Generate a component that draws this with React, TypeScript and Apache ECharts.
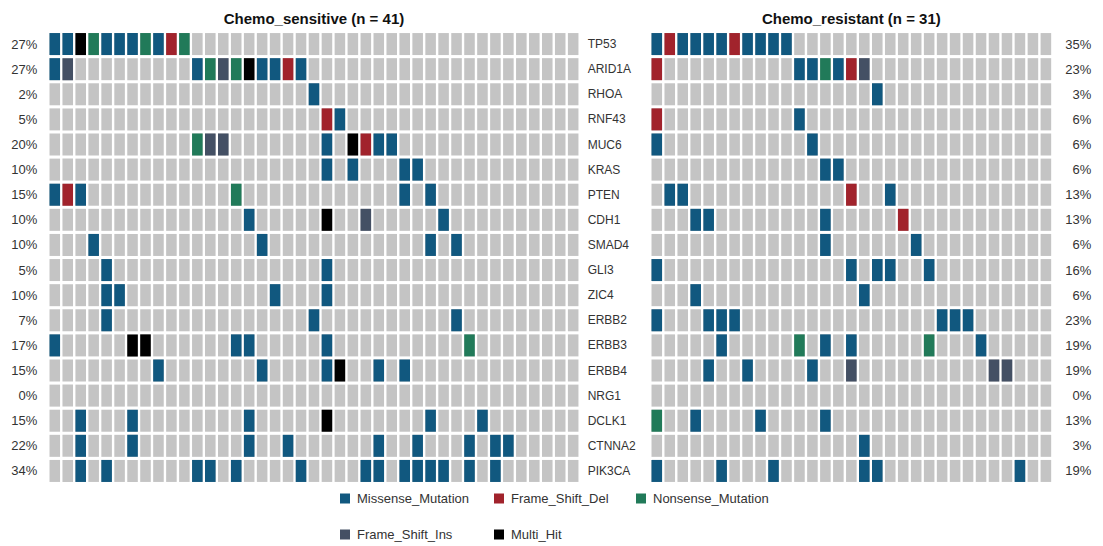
import React, { useEffect, useRef } from "react";
import * as echarts from "echarts";

// ---------- data ----------
const genes = [
  "TP53", "ARID1A", "RHOA", "RNF43", "MUC6", "KRAS", "PTEN", "CDH1", "SMAD4",
  "GLI3", "ZIC4", "ERBB2", "ERBB3", "ERBB4", "NRG1", "DCLK1", "CTNNA2", "PIK3CA",
];

const sensitivePct = [
  "27%", "27%", "2%", "5%", "20%", "10%", "15%", "10%", "10%",
  "5%", "10%", "7%", "17%", "15%", "0%", "15%", "22%", "34%",
];
const resistantPct = [
  "35%", "23%", "3%", "6%", "6%", "6%", "13%", "13%", "6%",
  "16%", "6%", "23%", "19%", "19%", "0%", "13%", "3%", "19%",
];

// M = Missense_Mutation, D = Frame_Shift_Del, N = Nonsense_Mutation,
// I = Frame_Shift_Ins, X = Multi_Hit, . = no mutation
// Chemo_sensitive: 41 samples
const sensitiveRows = [
  "MMXNMMMNMDN..............................", // TP53
  "MI.........MNINXMMDM.....................", // ARID1A
  "....................M....................", // RHOA
  ".....................DM..................", // RNF43
  "...........NII.......M.XDMM..............", // MUC6
  ".....................M.M...MM............", // KRAS
  "MDM...........N............M.M...........", // PTEN
  "...............M.....X..I.....M..........", // CDH1
  "...M............M............M.M.........", // SMAD4
  "....M................M...................", // GLI3
  "....MM...........M...M...................", // ZIC4
  "....M...............M..........M.........", // ERBB2
  "M.....XX......MM.....M..........N........", // ERBB3
  "........M.......M....MX..M.M.............", // ERBB4
  ".........................................", // NRG1
  "..M...M........M.....X.......M...M.......", // DCLK1
  "..M...M........M..M......M..M...M.MM.....", // CTNNA2
  "..M.M......MM.M....M....MM.MMMM.M.M......", // PIK3CA
];
// Chemo_resistant: 31 samples
const resistantRows = [
  "MDMMMMDMMMM....................", // TP53
  "D..........MMNMDI..............", // ARID1A
  ".................M.............", // RHOA
  "D..........M...................", // RNF43
  "M...........M..................", // MUC6
  ".............MM................", // KRAS
  ".MM............D..M............", // PTEN
  "...MM........M.....D...........", // CDH1
  ".............M......M..........", // SMAD4
  "M..............M.MM..M.........", // GLI3
  "...M............M..............", // ZIC4
  "M...MMM...............MMM......", // ERBB2
  ".....M.....N.M.M.....N...M.....", // ERBB3
  "....M..M....M..I..........II...", // ERBB4
  "...............................", // NRG1
  "N..M....M....M.................", // DCLK1
  "................M..............", // CTNNA2
  "M....M...M......MM..........M..", // PIK3CA
];

const mutationCodes = ["M", "D", "N", "I", "X"];
const mutationNames = [
  "Missense_Mutation", "Frame_Shift_Del", "Nonsense_Mutation",
  "Frame_Shift_Ins", "Multi_Hit",
];

// ---------- styles ----------
const mutationColors = ["#11587F", "#A1232C", "#217A59", "#445064", "#000000"];
const EMPTY_COLOR = "#C4C4C4";
const FONT = "'Liberation Sans', Arial, Helvetica, sans-serif";
const TEXT_COLOR = "#333333";
const GAP_X = 2.4;
const GAP_Y = 3.1;

function cellsOf(rows: string[], code: string | null) {
  const out: number[][] = [];
  rows.forEach((row, gi) => {
    for (let i = 0; i < row.length; i++) {
      if (code === null || row[i] === code) out.push([i, gi]);
    }
  });
  return out;
}

const makeRender = (fill: string) => (_params: any, api: any) => {
  const c = api.coord([api.value(0), api.value(1)]);
  const s = api.size([1, 1]);
  const w = s[0] - GAP_X;
  const h = s[1] - GAP_Y;
  return {
    type: "rect",
    shape: { x: c[0] - w / 2, y: c[1] - h / 2, width: w, height: h },
    style: { fill },
  };
};

export default function App() {
  const ref = useRef<HTMLDivElement>(null);

  useEffect(() => {
    if (!ref.current) return;
    const chart = echarts.init(ref.current, null, { renderer: "svg" });

    const nS = sensitiveRows[0].length;
    const nR = resistantRows[0].length;
    const sSamples = Array.from({ length: nS }, (_, i) => "S" + (i + 1));
    const rSamples = Array.from({ length: nR }, (_, i) => "R" + (i + 1));

    const hiddenX = {
      type: "category" as const,
      axisLine: { show: false },
      axisTick: { show: false },
      axisLabel: { show: false },
      splitLine: { show: false },
    };
    const catY = (data: string[], gridIndex: number, position: string, extra: any) => ({
      type: "category",
      data,
      gridIndex,
      position,
      inverse: true,
      axisLine: { show: false },
      axisTick: { show: false },
      splitLine: { show: false },
      axisLabel: {
        fontSize: 12,
        fontFamily: FONT,
        color: TEXT_COLOR,
        ...extra,
      },
    });

    const series: any[] = [];
    const addPanel = (rows: string[], idx: number, yIdx: number) => {
      series.push({
        type: "custom",
        name: "bg" + idx,
        xAxisIndex: idx,
        yAxisIndex: yIdx,
        renderItem: makeRender(EMPTY_COLOR),
        encode: { x: 0, y: 1 },
        data: cellsOf(rows, null),
        silent: true,
      });
      mutationCodes.forEach((code, k) => {
        series.push({
          type: "custom",
          name: mutationNames[k],
          xAxisIndex: idx,
          yAxisIndex: yIdx,
          itemStyle: { color: mutationColors[k] },
          renderItem: makeRender(mutationColors[k]),
          encode: { x: 0, y: 1 },
          data: cellsOf(rows, code),
        });
      });
    };
    addPanel(sensitiveRows, 0, 0);
    addPanel(resistantRows, 1, 2);

    const legendPos = [
      [340, 492], [494, 492], [636, 492], [340, 528], [494, 528],
    ];
    const legends = mutationNames.map((name, k) => ({
      data: [name],
      left: legendPos[k][0],
      top: legendPos[k][1],
      icon: "rect",
      itemWidth: 10,
      itemHeight: 10,
      selectedMode: false,
      padding: 0,
      textStyle: { fontSize: 13, fontFamily: FONT, color: TEXT_COLOR, padding: [0, 0, 0, 2] },
    }));

    const gridTop = 31.5;
    const gridH = 452;
    const sLeft = 48.3;
    const sW = nS * 12.96;
    const rLeft = 650.3;
    const rW = nR * 12.97;

    chart.setOption({
      animation: false,
      backgroundColor: "#ffffff",
      textStyle: { fontFamily: FONT },
      grid: [
        { left: sLeft, top: gridTop, width: sW, height: gridH },
        { left: rLeft, top: gridTop, width: rW, height: gridH },
      ],
      xAxis: [
        { ...hiddenX, gridIndex: 0, data: sSamples },
        { ...hiddenX, gridIndex: 1, data: rSamples },
      ],
      yAxis: [
        catY(sensitivePct, 0, "left", { margin: 11, fontSize: 13 }),
        catY(genes, 0, "right", { margin: 8, align: "left" }),
        catY(resistantPct, 1, "right", { margin: 39, align: "right", fontSize: 13 }),
      ],
      legend: legends,
      graphic: [
        {
          type: "text",
          x: sLeft + sW / 2,
          y: 18,
          style: {
            text: `Chemo_sensitive (n = ${nS})`,
            fontSize: 15,
            fontWeight: "bold",
            fontFamily: FONT,
            fill: "#111111",
            textAlign: "center",
            textVerticalAlign: "middle",
          },
        },
        {
          type: "text",
          x: rLeft + rW / 2,
          y: 18,
          style: {
            text: `Chemo_resistant (n = ${nR})`,
            fontSize: 15,
            fontWeight: "bold",
            fontFamily: FONT,
            fill: "#111111",
            textAlign: "center",
            textVerticalAlign: "middle",
          },
        },
      ],
      series,
    });

    return () => chart.dispose();
  }, []);

  return (
    <div
      ref={ref}
      style={{ position: "fixed", left: 0, top: 0, width: 1103, height: 546, background: "#fff" }}
    />
  );
}
